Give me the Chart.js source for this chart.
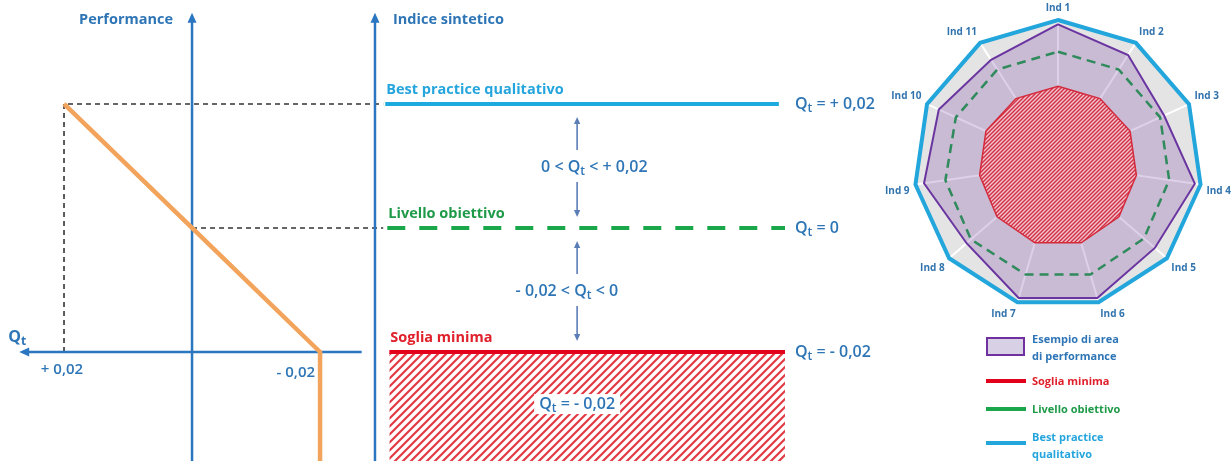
<!DOCTYPE html>
<html>
<head>
<meta charset="utf-8">
<script src="https://cdn.jsdelivr.net/npm/chart.js@4.4.1/dist/chart.umd.min.js"></script>
<style>
  body { margin: 0; background: #fff; }
  #page { position: relative; width: 1231px; height: 461px; overflow: hidden; font-family: "Open Sans", sans-serif; }
  #diagram { position: absolute; left: 0; top: 0; }
  #radar-box { position: absolute; left: 885px; top: -4px; width: 346px; height: 330px; }
  .legend-item { position: absolute; left: 986px; font-weight: 700; font-size: 11px; line-height: 17px; }
  .legend-item .mark { position: absolute; left: 0; }
  .legend-item .text { position: absolute; left: 46px; white-space: nowrap; }
</style>
</head>
<body>
<div id="page">
  <canvas id="diagram" width="900" height="461"></canvas>
  <div id="radar-box"><canvas id="radar"></canvas></div>
  <div id="legend"></div>
</div>
<script>
const FONT = '"Open Sans", sans-serif';

// thresholds of Qt and the performance curve
let levelNames = ["Best practice qualitativo", "Livello obiettivo", "Soglia minima"];
let levelQt = [0.02, 0, -0.02];
let levelTexts = ["Qt = + 0,02", "Qt = 0", "Qt = - 0,02"];
let curveQt = [0.02, 0, -0.02, -0.02];
let curvePerf = [0.02, 0, -0.02, -0.04];
let qtTicks = [0.02, -0.02];
let qtTickLabels = ["+ 0,02", "- 0,02"];
let rangeTexts = ["0 < Qt < + 0,02", "- 0,02 < Qt < 0"];
let hatchText = "Qt = - 0,02";

// radar values (scale 0..1)
let indicators = ["Ind 1", "Ind 2", "Ind 3", "Ind 4", "Ind 5", "Ind 6", "Ind 7", "Ind 8", "Ind 9", "Ind 10", "Ind 11"];
let bestPractice = [1, 1, 1, 1, 1, 1, 1, 1, 1, 1, 1];
let esempio = [0.97, 0.9, 0.81, 0.96, 0.89, 0.97, 0.97, 0.84, 0.94, 0.91, 0.86];
let obiettivo = [0.78, 0.78, 0.78, 0.78, 0.79, 0.8, 0.8, 0.8, 0.79, 0.78, 0.78];
let soglia = [0.54, 0.54, 0.55, 0.55, 0.56, 0.57, 0.57, 0.56, 0.55, 0.55, 0.54];

let legendLabels = ["Esempio di area<br>di performance", "Soglia minima", "Livello obiettivo", "Best practice<br>qualitativo"];

const BLUE = "#2e75b6";
let levelStyles = [
  { color: "#1fa9e1", text: "#25a5dd", dash: [], width: 4, from: 0.025, to: 0.985 },
  { color: "#1aa64a", text: "#1f9a48", dash: [18, 14], width: 4, from: 0.03, to: 1.0 },
  { color: "#e3001b", text: "#e0202a", dash: [], width: 4, from: 0.035, to: 1.0 },
];

//helpers
function hatch(size, stripe, lineColor, bg) {
  const c = document.createElement("canvas");
  c.width = size;
  c.height = size;
  const g = c.getContext("2d");
  if (bg) {
    g.fillStyle = bg;
    g.fillRect(0, 0, size, size);
  }
  g.strokeStyle = lineColor;
  g.lineWidth = stripe;
  g.beginPath();
  g.moveTo(0, size);
  g.lineTo(size, 0);
  g.moveTo(-size / 2, size / 2);
  g.lineTo(size / 2, -size / 2);
  g.moveTo(size / 2, size * 1.5);
  g.lineTo(size * 1.5, size / 2);
  g.stroke();
  return g.createPattern(c, "repeat");
}

function richText(ctx, str, x, y, size, weight, color, align) {
  const main = `${weight} ${size}px ${FONT}`;
  const sub = `${weight} ${Math.round(size * 0.72)}px ${FONT}`;
  const pieces = [];
  str.split("Qt").forEach((p, i) => {
    if (i > 0) {
      pieces.push({ t: "Q", f: main, dy: 0 });
      pieces.push({ t: "t", f: sub, dy: size * 0.3 });
    }
    if (p) pieces.push({ t: p, f: main, dy: 0 });
  });
  ctx.save();
  ctx.fillStyle = color;
  ctx.textBaseline = "middle";
  ctx.textAlign = "left";
  let w = 0;
  pieces.forEach((pc) => {
    ctx.font = pc.f;
    pc.w = ctx.measureText(pc.t).width;
    w += pc.w;
  });
  let cx = align === "center" ? x - w / 2 : align === "right" ? x - w : x;
  const start = cx;
  pieces.forEach((pc) => {
    ctx.font = pc.f;
    ctx.fillText(pc.t, cx, y + pc.dy);
    cx += pc.w;
  });
  ctx.restore();
  return { left: start, width: w };
}

function arrow(ctx, x1, y1, x2, y2, head, color, width) {
  const a = Math.atan2(y2 - y1, x2 - x1);
  ctx.save();
  ctx.strokeStyle = color;
  ctx.fillStyle = color;
  ctx.lineWidth = width;
  ctx.beginPath();
  ctx.moveTo(x1, y1);
  ctx.lineTo(x2 - Math.cos(a) * head * 0.8, y2 - Math.sin(a) * head * 0.8);
  ctx.stroke();
  ctx.beginPath();
  ctx.moveTo(x2, y2);
  ctx.lineTo(x2 - head * Math.cos(a) + head * 0.45 * Math.sin(a), y2 - head * Math.sin(a) - head * 0.45 * Math.cos(a));
  ctx.lineTo(x2 - head * Math.cos(a) - head * 0.45 * Math.sin(a), y2 - head * Math.sin(a) + head * 0.45 * Math.cos(a));
  ctx.closePath();
  ctx.fill();
  ctx.restore();
}

//axes, guides and labels of the left diagram
const perfTop = 0.0347;
const qtAxisFrom = 0.027;
const qtAxisTo = -0.0265;
const diagramPlugin = {
  id: "diagram",
  beforeDatasetsDraw(chart) {
    const { ctx, chartArea, scales } = chart;
    const x = scales.x, xi = scales.xi, y = scales.y;
    const x0 = x.getPixelForValue(0);
    const xI = xi.getPixelForValue(0);
    const yAxis = y.getPixelForValue(levelQt[2]);
    // dashed guides
    ctx.save();
    ctx.strokeStyle = "#333";
    ctx.lineWidth = 1.6;
    ctx.setLineDash([5, 4]);
    ctx.beginPath();
    ctx.moveTo(x.getPixelForValue(qtTicks[0]), yAxis);
    ctx.lineTo(x.getPixelForValue(qtTicks[0]), y.getPixelForValue(levelQt[0]));
    ctx.lineTo(xi.getPixelForValue(0.02), y.getPixelForValue(levelQt[0]));
    ctx.moveTo(x0, y.getPixelForValue(levelQt[1]));
    ctx.lineTo(xi.getPixelForValue(0.02), y.getPixelForValue(levelQt[1]));
    ctx.stroke();
    ctx.restore();
    // axes
    const top = y.getPixelForValue(perfTop);
    arrow(ctx, x0, chartArea.bottom, x0, top, 10, "#2a76c0", 2.5);
    arrow(ctx, xI, chartArea.bottom, xI, top, 10, "#2a76c0", 2.5);
    arrow(ctx, x.getPixelForValue(qtAxisTo), yAxis, x.getPixelForValue(qtAxisFrom), yAxis, 10, "#2a76c0", 2.5);
  },
  afterDatasetsDraw(chart) {
    const { ctx, scales } = chart;
    const x = scales.x, xi = scales.xi, y = scales.y;
    const x0 = x.getPixelForValue(0);
    const xI = xi.getPixelForValue(0);
    const top = y.getPixelForValue(perfTop);
    const yAxis = y.getPixelForValue(levelQt[2]);
    richText(ctx, "Performance", x0 - 19, top + 7, 14.5, 700, BLUE, "right");
    richText(ctx, "Indice sintetico", xI + 18, top + 7, 14.5, 700, BLUE, "left");
    richText(ctx, "Qt", x.getPixelForValue(qtAxisFrom) - 11, yAxis - 15, 16, 700, BLUE, "left");
    richText(ctx, qtTickLabels[0], x.getPixelForValue(qtTicks[0]) - 2, yAxis + 18, 15, 600, BLUE, "center");
    richText(ctx, qtTickLabels[1], x.getPixelForValue(qtTicks[1]) - 5, yAxis + 21, 15, 600, BLUE, "right");
    levelQt.forEach((q, i) => {
      const st = levelStyles[i];
      const py = y.getPixelForValue(q);
      richText(ctx, levelNames[i], xi.getPixelForValue(st.from) + 1, py - 14, 14.5, 700, st.text, "left");
      richText(ctx, levelTexts[i], xi.getPixelForValue(1.0) + 10, py, 16, 600, BLUE, "left");
    });
    // range arrows between the levels
    const ax = xi.getPixelForValue(0.493);
    [[levelQt[0], levelQt[1], 0.535], [levelQt[1], levelQt[2], 0.468]].forEach(([hi, lo, tx], i) => {
      const yh = y.getPixelForValue(hi), yl = y.getPixelForValue(lo);
      const mid = (yh + yl) / 2;
      arrow(ctx, ax, mid - 16, ax, yh + 13, 7, "#5a7db8", 1.6);
      arrow(ctx, ax, mid + 16, ax, yl - 11, 7, "#5a7db8", 1.6);
      richText(ctx, rangeTexts[i], xi.getPixelForValue(tx), mid + 1, 16, 600, BLUE, "center");
    });
    // label inside the hatched area
    ctx.save();
    const hy = y.getPixelForValue(-0.0284);
    const hx = xi.getPixelForValue(0.493);
    ctx.fillStyle = "#fff";
    ctx.fillRect(hx - 43, hy - 10, 86, 20);
    ctx.restore();
    richText(ctx, hatchText, hx, hy, 16, 600, BLUE, "center");
  },
};

const dctx = document.getElementById("diagram").getContext("2d");
const levelSets = levelQt.map((q, i) => ({
  data: [
    { x: levelStyles[i].from, y: q },
    { x: levelStyles[i].to, y: q },
  ],
  xAxisID: "xi",
  borderColor: levelStyles[i].color,
  borderWidth: levelStyles[i].width,
  borderDash: levelStyles[i].dash,
  borderCapStyle: "butt",
  pointRadius: 0,
  fill: i === 2 ? "start" : false,
  backgroundColor: i === 2 ? hatch(8, 2.2, "#e23a44", null) : "transparent",
}));
const diagram = new Chart(dctx, {
  type: "line",
  data: {
    datasets: [
      {
        data: curveQt.map((q, i) => ({ x: q, y: curvePerf[i] })),
        xAxisID: "x",
        borderColor: "#f3a45c",
        borderWidth: 4.5,
        borderJoinStyle: "round",
        pointRadius: 0,
        fill: false,
      },
      ...levelSets,
    ],
  },
  options: {
    responsive: false,
    animation: false,
    events: [],
    layout: { padding: 0 },
    plugins: { legend: { display: false }, tooltip: { enabled: false } },
    scales: {
      x: { type: "linear", reverse: true, min: -0.1106, max: 0.03, display: false },
      xi: { type: "linear", position: "bottom", min: -0.9146, max: 1.2805, display: false },
      y: { type: "linear", min: -0.03758, max: 0.03677, display: false },
    },
  },
  plugins: [diagramPlugin],
});

//radar chart
const rctx = document.getElementById("radar").getContext("2d");
const radarChart = new Chart(rctx, {
  type: "radar",
  data: {
    labels: indicators,
    datasets: [
      {
        label: "Soglia minima",
        data: soglia,
        borderColor: "#d42a3c",
        borderWidth: 1.5,
        backgroundColor: hatch(4, 1.4, "#d03045", "#f2c2cc"),
        fill: true,
        pointRadius: 0,
      },
      {
        label: "Livello obiettivo",
        data: obiettivo,
        borderColor: "#2f8a5c",
        borderWidth: 2.5,
        borderDash: [9, 6],
        fill: false,
        pointRadius: 0,
      },
      {
        label: "Esempio di area di performance",
        data: esempio,
        borderColor: "#6a35a0",
        borderWidth: 2,
        backgroundColor: "rgba(112, 60, 160, 0.24)",
        fill: true,
        pointRadius: 0,
      },
      {
        label: "Best practice qualitativo",
        data: bestPractice,
        borderColor: "#23a6db",
        borderWidth: 4,
        fill: false,
        pointRadius: 0,
      },
    ],
  },
  options: {
    responsive: true,
    maintainAspectRatio: false,
    animation: false,
    events: [],
    elements: { line: { tension: 0 } },
    plugins: { legend: { display: false }, tooltip: { enabled: false } },
    scales: {
      r: {
        min: 0,
        max: 1,
        backgroundColor: "#e4e4e4",
        grid: { display: false },
        angleLines: { color: "#ffffff", lineWidth: 2 },
        ticks: { display: false },
        pointLabels: { color: "#3173ad", font: { family: FONT, size: 10, weight: "bold" }, padding: 6 },
      },
    },
  },
});

//building legend
let legendMarks = [
  { top: 330, mark: "width:35px;height:15px;top:7px;border:2px solid #7030a0;background:#d8d0e4;", color: BLUE },
  { top: 372, mark: "width:40px;height:4px;top:7px;background:#e3001b;", color: "#e0202a" },
  { top: 400, mark: "width:40px;height:4px;top:7px;background:#1aa64a;", color: "#1f9a48" },
  { top: 428, mark: "width:40px;height:4px;top:13px;background:#23a6db;", color: "#25a5dd" },
];
let legend = document.getElementById("legend");
legendLabels.forEach((label, i) => {
  let item = document.createElement("div");
  item.className = "legend-item";
  item.style.top = legendMarks[i].top + "px";
  item.innerHTML = `<div class="mark" style="${legendMarks[i].mark}"></div><div class="text" style="color:${legendMarks[i].color}">${label}</div>`;
  legend.appendChild(item);
});
</script>
</body>
</html>
